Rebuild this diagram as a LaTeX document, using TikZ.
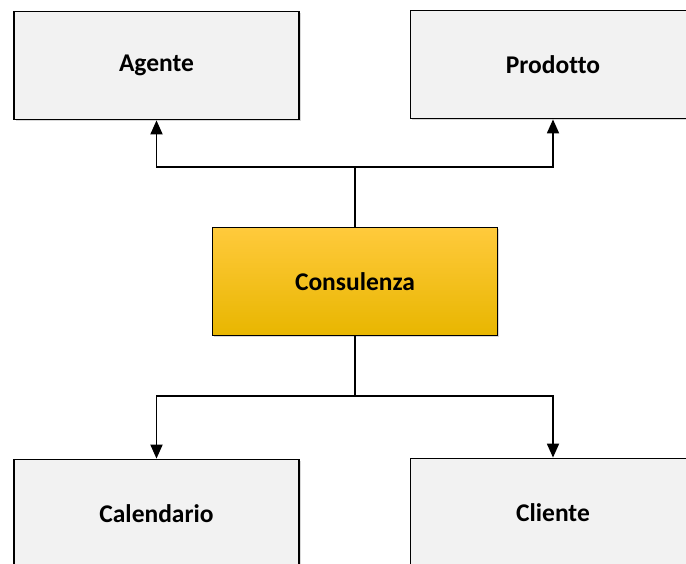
\documentclass[tikz,border=0pt]{standalone}
\usepackage{fontspec}
\setmainfont[Ligatures=NoCommon]{Carlito}
\usetikzlibrary{arrows.meta,shadows}
\begin{document}
\begin{tikzpicture}[x=1pt,y=-1pt,
  entity/.style={draw=black, line width=1.8pt, fill=gray!10,
    minimum width=285pt, minimum height=108pt, inner sep=0pt,
    font=\fontsize{25.5}{30}\selectfont\bfseries,
    drop shadow={shadow xshift=1.5pt, shadow yshift=-1.8pt, opacity=0.3}},
  core/.style={entity,
    top color={rgb,255:red,255;green,202;blue,60},
    middle color={rgb,255:red,255;green,192;blue,0},
    bottom color={rgb,255:red,232;green,182;blue,0}},
  link/.style={line width=1.8pt, draw=black},
  arr/.style={link, -{Triangle[length=14pt,width=12pt]}}]
\clip (0,0) rectangle (686,564);
\fill[white] (0,0) rectangle (686,564);
% entities
\node[entity] (agente) at (156.5,65.5) {Agente};
\node[entity] (prodotto) at (553,64.5) {Prodotto};
\node[core] (cons) at (355,281.5) {Consulenza};
\node[entity] (cal) at (156.5,513.5) {Calendario};
\node[entity] (cli) at (553,512.5) {Cliente};
% junction points
\coordinate (tj) at (355,167);
\coordinate (bj) at (355,396);
% connectors
\draw[link] (cons.north) -- (tj);
\draw[arr] (tj) -| (agente.south);
\draw[arr] (tj) -| (prodotto.south);
\draw[link] (cons.south) -- (bj);
\draw[arr] (bj) -| (cal.north);
\draw[arr] (bj) -| (cli.north);
\end{tikzpicture}
\end{document}
